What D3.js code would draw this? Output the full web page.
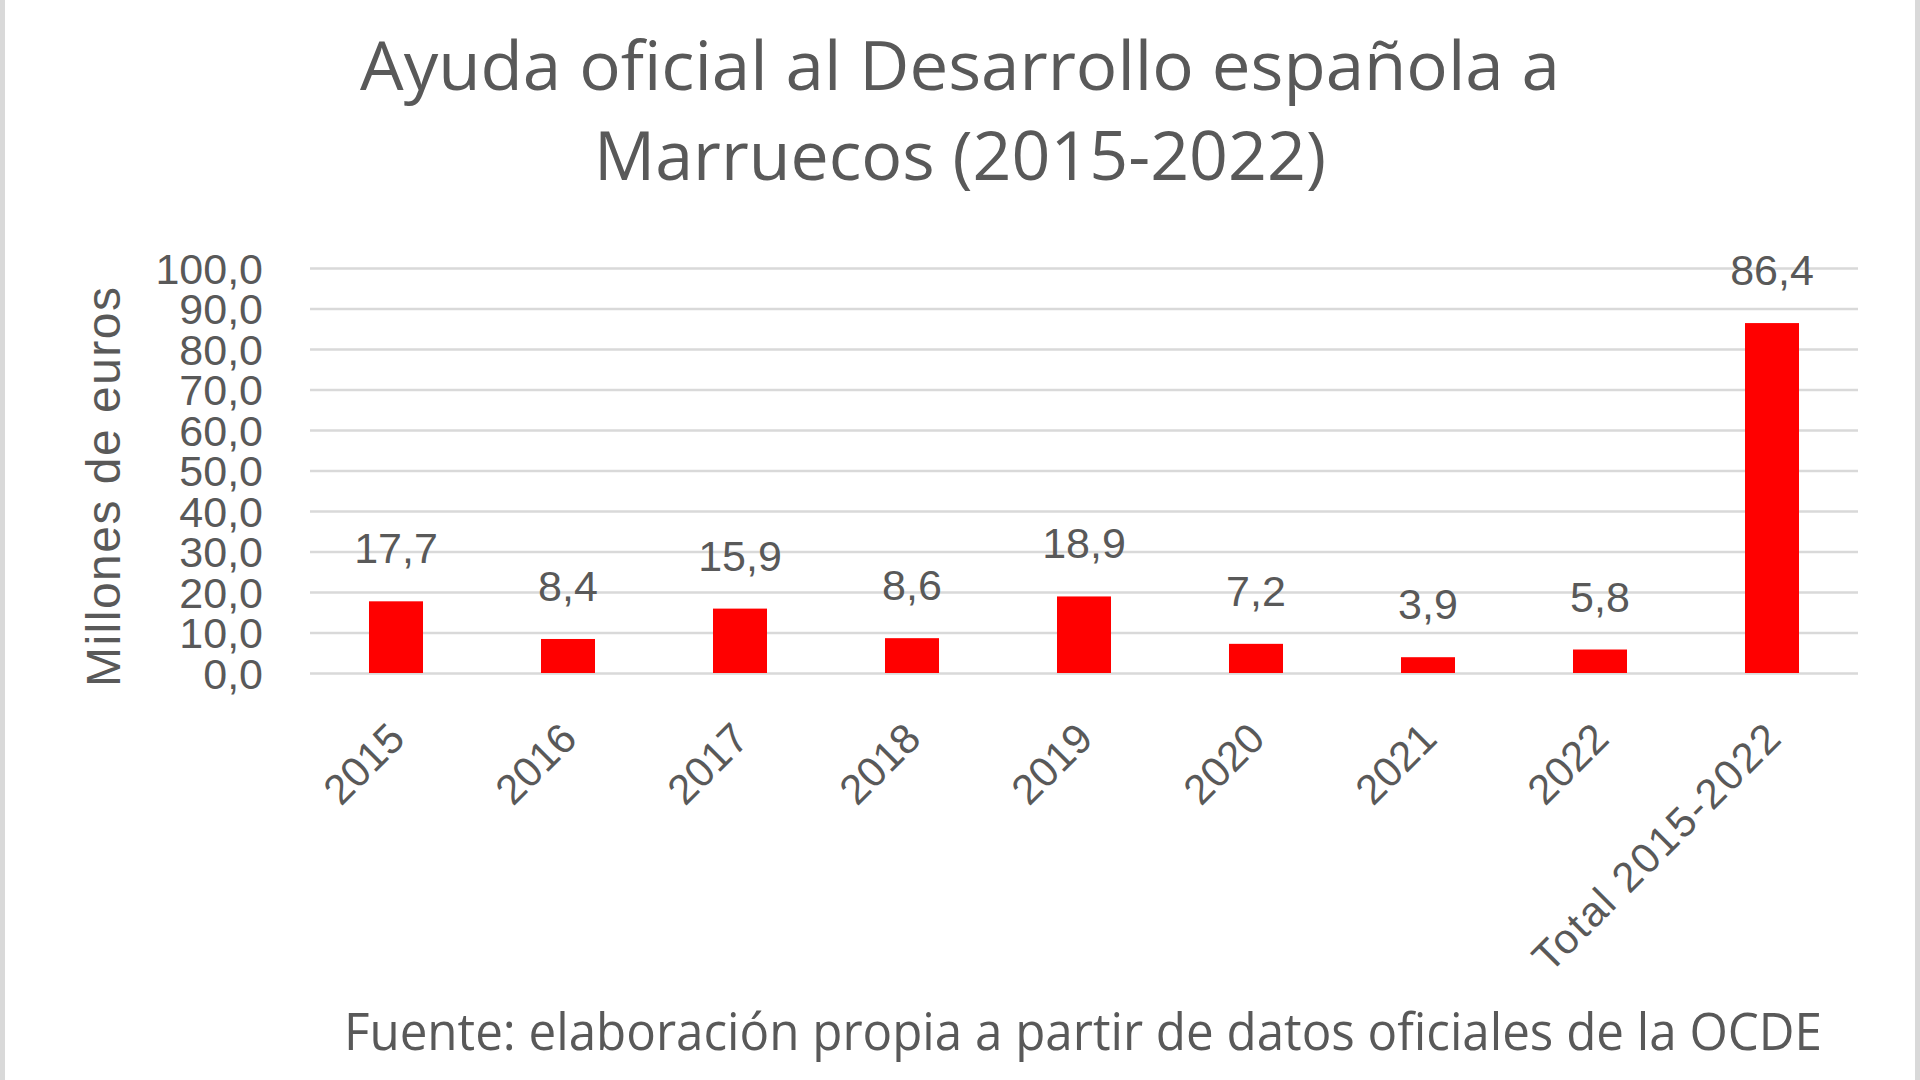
<!DOCTYPE html>
<html>
<head>
<meta charset="utf-8">
<script src="https://cdn.jsdelivr.net/npm/d3@7"></script>
<style>
  html, body { margin: 0; padding: 0; background: #fff; }
  svg { display: block; }
</style>
</head>
<body>
<svg id="chart" width="1920" height="1080"></svg>
<script>
// ---- data ----
const categories = ["2015", "2016", "2017", "2018", "2019", "2020", "2021", "2022", "Total 2015-2022"];
const values = [17.7, 8.4, 15.9, 8.6, 18.9, 7.2, 3.9, 5.8, 86.4];
const yTicks = [0, 10, 20, 30, 40, 50, 60, 70, 80, 90, 100];
const titleLines = ["Ayuda oficial al Desarrollo española a", "Marruecos (2015-2022)"];
const yAxisTitle = "Millones de euros";
const sourceText = "Fuente: elaboración propia a partir de datos oficiales de la OCDE";

// ---- setup ----
const W = 1920, H = 1080;
const margin = { left: 310, right: 62, top: 268, bottom: 407 };
const plotW = W - margin.left - margin.right;   // 1548
const plotH = H - margin.top - margin.bottom;   // 405
const textColor = "#595959";
const gridColor = "#d9d9d9";

const locale = d3.formatLocale({ decimal: ",", thousands: ".", grouping: [3], currency: ["", "€"] });
const fmt = locale.format(".1f");

const svg = d3.select("#chart");
svg.append("rect").attr("width", W).attr("height", H).attr("fill", "#fff");
// side borders
svg.append("rect").attr("x", 0).attr("y", 0).attr("width", 5).attr("height", H).attr("fill", "#d9d9d9");
svg.append("rect").attr("x", W - 5).attr("y", 0).attr("width", 5).attr("height", H).attr("fill", "#d9d9d9");

const x = d3.scaleBand().domain(categories).range([0, plotW]).paddingInner(0.686).paddingOuter(0.343);
const y = d3.scaleLinear().domain([0, 100]).range([plotH, 0]);

const g = svg.append("g").attr("transform", `translate(${margin.left},${margin.top})`);

// gridlines
const grid = g.append("g").call(d3.axisLeft(y).tickValues(yTicks).tickSize(-plotW).tickFormat(""));
grid.select(".domain").remove();
grid.selectAll(".tick line").attr("stroke", gridColor).attr("stroke-width", 2.6);

// y axis labels
const yAx = g.append("g").attr("transform", "translate(-47,0)")
  .call(d3.axisLeft(y).tickValues(yTicks).tickSize(0).tickPadding(0).tickFormat(fmt));
yAx.select(".domain").remove();
yAx.selectAll("text")
  .attr("fill", textColor)
  .style("font-family", "'Liberation Sans', Arial, sans-serif")
  .style("font-size", "43px")
  .attr("dy", "0.36em");

// bars
g.selectAll("rect.bar").data(values).join("rect")
  .attr("class", "bar")
  .attr("x", (d, i) => x(categories[i]))
  .attr("width", x.bandwidth())
  .attr("y", d => y(d))
  .attr("height", d => y(0) - y(d))
  .attr("fill", "#ff0000");

// data labels
g.selectAll("text.lbl").data(values).join("text")
  .attr("class", "lbl")
  .attr("x", (d, i) => x(categories[i]) + x.bandwidth() / 2)
  .attr("y", d => y(d) - 38)
  .attr("text-anchor", "middle")
  .attr("fill", textColor)
  .style("font-family", "'Liberation Sans', Arial, sans-serif")
  .style("font-size", "43px")
  .text(d => fmt(d));

// x axis
const xAx = g.append("g").attr("transform", `translate(0,${plotH})`)
  .call(d3.axisBottom(x).tickSize(0).tickPadding(0));
xAx.select(".domain").remove();
xAx.selectAll("text")
  .attr("fill", textColor)
  .style("font-family", "'Liberation Sans', Arial, sans-serif")
  .style("font-size", "42px")
  .attr("text-anchor", "end")
  .attr("dy", 0)
  .attr("y", 0)
  .attr("transform", "translate(11,68) rotate(-45)")
  .each(function(d) {
    if (d.length > 6) d3.select(this).attr("textLength", 330).attr("lengthAdjust", "spacing");
  });

// y axis title
svg.append("text")
  .attr("transform", "translate(120,487) rotate(-90)")
  .attr("text-anchor", "middle")
  .attr("fill", textColor)
  .style("font-family", "'Liberation Sans', Arial, sans-serif")
  .style("font-size", "48px")
  .attr("textLength", 400)
  .attr("lengthAdjust", "spacing")
  .text(yAxisTitle);

// title
const titleLens = [1200, 732];
svg.selectAll("text.title").data(titleLines).join("text")
  .attr("class", "title")
  .attr("x", 960)
  .attr("y", (d, i) => 90 + i * 90)
  .attr("text-anchor", "middle")
  .attr("fill", textColor)
  .style("font-family", "'Open Sans', sans-serif")
  .style("font-size", "68px")
  .attr("textLength", (d, i) => titleLens[i])
  .attr("lengthAdjust", "spacingAndGlyphs")
  .text(d => d);

// source
svg.append("text")
  .attr("x", 344)
  .attr("y", 1050)
  .attr("fill", textColor)
  .style("font-family", "'Open Sans', sans-serif")
  .style("font-size", "51px")
  .attr("textLength", 1478)
  .attr("lengthAdjust", "spacingAndGlyphs")
  .text(sourceText);
</script>
</body>
</html>
